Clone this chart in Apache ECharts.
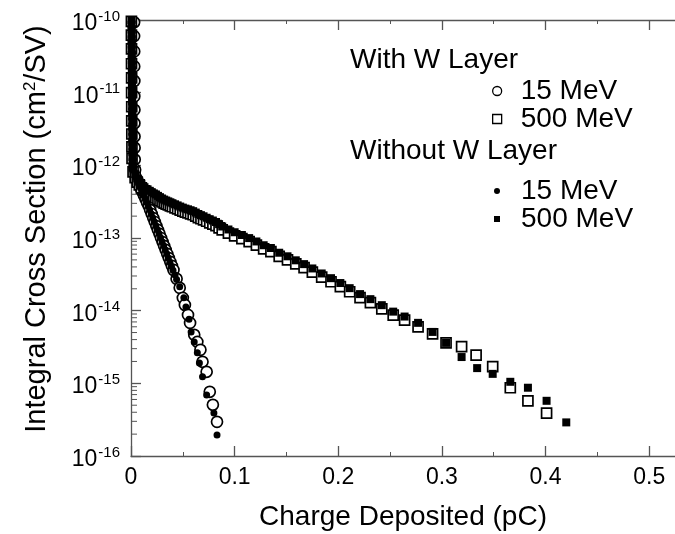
<!DOCTYPE html>
<html><head><meta charset="utf-8">
<script src="https://cdn.jsdelivr.net/npm/echarts@6/dist/echarts.min.js"></script>
<style>html,body{margin:0;padding:0;background:#fff}#c{width:675px;height:534px}</style>
</head><body><div id="c"></div>
<script>
// ---- data (charge in pC, integral cross section in cm^2/SV) ----
const withW15Charge = [0.0030,0.0030,0.0031,0.0031,0.0032,0.0032,0.0033,0.0033,0.0034,0.0035,0.0036,0.0040,
  0.005,0.0065,0.008,0.0095,0.011,0.0125,0.014,0.0155,0.017,0.0185,0.020,0.0215,0.023,0.0245,0.026,0.0275,0.029,0.0305,0.032,0.0335,0.035,0.0365,0.038,0.0395,0.041,
  0.044,0.047,0.050,0.052,0.055,0.057,0.061,0.064,0.067,0.069,0.073,0.076,0.079,0.083];
const withW15Sigma = [9.3e-11,6.0e-11,3.7e-11,2.3e-11,1.45e-11,8.9e-12,5.8e-12,3.8e-12,2.5e-12,1.75e-12,1.2e-12,8.7e-13,
  6.71e-13,6.0e-13,5.37e-13,4.81e-13,4.31e-13,3.86e-13,3.45e-13,3.09e-13,2.77e-13,2.43e-13,2.14e-13,1.88e-13,1.66e-13,1.46e-13,1.29e-13,1.14e-13,1.00e-13,8.8e-14,7.78e-14,6.85e-14,6.04e-14,5.3e-14,4.69e-14,4.13e-14,3.64e-14,
  2.74e-14,2.06e-14,1.50e-14,1.20e-14,8.75e-15,6.79e-15,4.65e-15,3.72e-15,2.89e-15,1.98e-15,1.44e-15,7.64e-16,5.06e-16,2.95e-16];

const withW500Charge = [0.0004,0.0004,0.0005,0.0005,0.0006,0.0006,0.0007,0.0007,0.0008,0.0009,0.0010,
  0.002,0.004,0.006,0.008,0.010,0.013,0.016,0.018,0.020,0.022,0.024,0.026,0.028,0.030,0.032,0.034,0.036,0.038,0.040,0.0425,0.045,0.0475,0.050,0.0525,0.055,0.0575,0.060,0.0625,0.065,0.0675,0.070,0.073,0.076,0.079,0.082,0.085,0.088,
  0.094,0.100,0.107,0.114,0.121,0.128,0.135,0.143,0.151,0.159,0.167,0.175,0.184,0.193,0.202,0.211,0.221,0.231,0.242,0.253,0.264,0.277,0.291,0.304,0.319,0.333,0.349,0.366,0.383,0.401];
const withW500Sigma = [9.6e-11,6.2e-11,4.0e-11,2.5e-11,1.6e-11,1.0e-11,6.4e-12,4.1e-12,2.7e-12,1.8e-12,1.25e-12,
  8.13e-13,6.76e-13,5.89e-13,5.37e-13,4.90e-13,4.47e-13,4.17e-13,3.98e-13,3.80e-13,3.67e-13,3.55e-13,3.39e-13,3.24e-13,3.13e-13,3.02e-13,2.93e-13,2.85e-13,2.77e-13,2.69e-13,2.60e-13,2.51e-13,2.42e-13,2.34e-13,2.27e-13,2.21e-13,2.15e-13,2.09e-13,2.0e-13,1.91e-13,1.84e-13,1.78e-13,1.70e-13,1.62e-13,1.55e-13,1.48e-13,1.38e-13,1.29e-13,
  1.17e-13,1.07e-13,9.8e-14,8.9e-14,8.0e-14,7.1e-14,6.5e-14,5.6e-14,5.0e-14,4.4e-14,3.9e-14,3.4e-14,2.9e-14,2.5e-14,2.14e-14,1.82e-14,1.51e-14,1.29e-14,1.06e-14,8.7e-15,7.4e-15,6.0e-15,4.8e-15,3.6e-15,3.2e-15,2.45e-15,1.70e-15,8.7e-16,5.75e-16,3.9e-16];

const noW15Charge = [0.0010,0.0010,0.0011,0.0011,0.0012,0.0012,0.0013,0.0013,0.0014,0.0014,0.0015,0.0015,0.0016,0.0016,0.0017,0.0017,0.0018,0.0018,0.0019,0.0019,0.0020,0.0020,0.0021,0.0021,0.0022,0.0022,0.0023,0.0023,0.0024,0.0025,
  0.0045,0.006,0.0075,0.009,0.0105,0.012,0.0135,0.015,0.0165,0.018,0.0195,0.021,0.0225,0.024,0.0255,0.027,0.0285,0.030,0.0315,0.033,0.0345,0.036,0.0375,0.039,0.0405,0.0425,
  0.044,0.047,0.051,0.053,0.056,0.058,0.061,0.064,0.066,0.069,0.073,0.080,0.083];
const noW15Sigma = [9.5e-11,8.1e-11,6.9e-11,5.9e-11,5.0e-11,4.3e-11,3.6e-11,3.1e-11,2.6e-11,2.2e-11,1.9e-11,1.6e-11,1.35e-11,1.15e-11,9.8e-12,8.3e-12,7.1e-12,6.0e-12,5.1e-12,4.4e-12,3.7e-12,3.15e-12,2.7e-12,2.3e-12,1.95e-12,1.65e-12,1.4e-12,1.2e-12,1.02e-12,8.7e-13,
  6.9e-13,6.2e-13,5.5e-13,4.9e-13,4.4e-13,3.9e-13,3.5e-13,3.1e-13,2.75e-13,2.45e-13,2.15e-13,1.9e-13,1.68e-13,1.48e-13,1.3e-13,1.15e-13,1.01e-13,8.9e-14,7.8e-14,6.9e-14,6.05e-14,5.3e-14,4.65e-14,4.1e-14,3.6e-14,3.1e-14,
  2.69e-14,2.14e-14,1.51e-14,1.12e-14,7.6e-15,5.1e-15,3.7e-15,2.63e-15,1.9e-15,1.23e-15,6.9e-16,3.9e-16,1.95e-16];

const noW500Charge = [0.0005,0.0005,0.0006,0.0006,0.0006,0.0007,0.0007,0.0007,0.0008,0.0008,0.0008,0.0009,0.0009,0.0009,0.0010,0.0010,0.0010,0.0011,0.0011,0.0011,0.0012,0.0012,0.0012,0.0013,0.0013,0.0013,0.0014,0.0014,0.0015,0.0015,
  0.002,0.004,0.006,0.008,0.010,0.013,0.016,0.018,0.020,0.022,0.024,0.026,0.028,0.030,0.032,0.034,0.036,0.038,0.040,0.0425,0.045,0.0475,0.050,0.0525,0.055,0.0575,0.060,0.0625,0.065,0.0675,0.070,0.073,0.076,0.079,0.082,0.085,0.088,
  0.094,0.100,0.107,0.114,0.121,0.128,0.135,0.143,0.151,0.159,0.167,0.175,0.184,0.193,0.202,0.211,0.221,0.231,0.242,0.253,0.264,
  0.277,0.291,0.304,0.319,0.334,0.349,0.366,0.383,0.401,0.420];
const noW500Sigma = [1.0e-10,8.6e-11,7.4e-11,6.3e-11,5.4e-11,4.6e-11,3.9e-11,3.3e-11,2.8e-11,2.4e-11,2.0e-11,1.7e-11,1.45e-11,1.23e-11,1.05e-11,8.9e-12,7.6e-12,6.5e-12,5.5e-12,4.7e-12,4.0e-12,3.4e-12,2.9e-12,2.45e-12,2.1e-12,1.8e-12,1.52e-12,1.3e-12,1.1e-12,9.4e-13,
  9.1e-13,7.57e-13,6.6e-13,6.0e-13,5.5e-13,5.0e-13,4.67e-13,4.46e-13,4.26e-13,4.11e-13,3.98e-13,3.8e-13,3.63e-13,3.5e-13,3.38e-13,3.28e-13,3.19e-13,3.1e-13,3.01e-13,2.91e-13,2.81e-13,2.71e-13,2.62e-13,2.54e-13,2.48e-13,2.41e-13,2.34e-13,2.24e-13,2.14e-13,2.06e-13,1.99e-13,1.9e-13,1.81e-13,1.74e-13,1.66e-13,1.55e-13,1.44e-13,
  1.31e-13,1.2e-13,1.1e-13,9.97e-14,8.96e-14,7.95e-14,7.28e-14,6.27e-14,5.6e-14,4.93e-14,4.37e-14,3.81e-14,3.25e-14,2.8e-14,2.4e-14,2.04e-14,1.69e-14,1.44e-14,1.19e-14,9.7e-15,8.3e-15,
  6.8e-15,5.1e-15,3.6e-15,2.3e-15,1.62e-15,1.35e-15,1.05e-15,8.7e-16,5.75e-16,2.9e-16];

const xTickLabels = ['0','0.1','0.2','0.3','0.4','0.5'];
const yDecades = [-16,-15,-14,-13,-12,-11,-10];

// ---- chart ----
const FONT = '"Liberation Sans", Arial, Helvetica, sans-serif';
const AX = '#555';
const pairs = (xs, ys) => xs.map((x, i) => [x, ys[i]]);
const minorTicks = [];
for (let e = yDecades[0]; e < yDecades[yDecades.length - 1]; e++)
  for (let k = 2; k <= 9; k++) minorTicks.push([0, k * Math.pow(10, e)]);

const openStyle = {color: '#fff', borderColor: '#000', borderWidth: 1.7, opacity: 1};
const fillStyle = {color: '#000', borderWidth: 0, opacity: 1};

const xBase = {
  type: 'value', min: 0, max: 0.55, interval: 0.1,
  axisLine: {show: true, onZero: false, lineStyle: {color: AX, width: 1.3}},
  axisTick: {show: true, inside: true, length: 10, lineStyle: {color: AX, width: 1.3}},
  minorTick: {show: true, splitNumber: 2, length: 4, lineStyle: {color: AX, width: 1}},
  splitLine: {show: false}, minorSplitLine: {show: false}
};

const chart = echarts.init(document.getElementById('c'));
chart.setOption({
  animation: false,
  backgroundColor: '#fff',
  grid: {left: 131, top: 20, right: -26, bottom: 78, containLabel: false, outerBoundsMode: 'none'},
  xAxis: [
    Object.assign({}, xBase, {
      position: 'bottom',
      axisLabel: {fontSize: 23, color: '#000', fontFamily: FONT, margin: 10,
        formatter: v => { const i = Math.round(v * 10); return Math.abs(v * 10 - i) < 1e-6 && i < xTickLabels.length ? xTickLabels[i] : ''; }},
      name: 'Charge Deposited (pC)', nameLocation: 'middle', nameGap: 47,
      nameTextStyle: {fontSize: 28, color: '#000', fontFamily: FONT, padding: [0, 26, 0, 0]}
    }),
    Object.assign({}, xBase, {position: 'top', axisLabel: {show: false}})
  ],
  yAxis: {
    type: 'log', logBase: 10, min: 1e-16, max: 1e-10, splitNumber: 6,
    axisLine: {show: true, onZero: false, lineStyle: {color: AX, width: 1.3}},
    axisTick: {show: true, inside: true, length: 10, lineStyle: {color: AX, width: 1.3}},
    splitLine: {show: false},
    axisLabel: {
      margin: 11, color: '#000', fontFamily: FONT,
      formatter: v => '{b|10}{s|' + Math.round(Math.log10(v)) + '}',
      rich: {
        b: {fontSize: 23, fontFamily: FONT, color: '#000', lineHeight: 30, verticalAlign: 'bottom'},
        s: {fontSize: 15, fontFamily: FONT, color: '#000', lineHeight: 15, verticalAlign: 'top', padding: [4, 0, 0, 1]}
      }
    },
    name: 'Integral Cross Section (cm{sup|2}/SV)', nameLocation: 'middle', nameGap: 80, nameRotate: 90,
    nameTextStyle: {fontSize: 29, color: '#000', fontFamily: FONT, padding: [0, 0, 0, 18],
      rich: {sup: {fontSize: 17, fontFamily: FONT, color: '#000', verticalAlign: 'top', lineHeight: 17}}}
  },
  legend: [
    {data: ['With W Layer 15 MeV', 'With W Layer 500 MeV'], orient: 'vertical', left: 492, top: 77,
     padding: 0, itemGap: 0, itemWidth: 9, itemHeight: 9, selectedMode: false,
     formatter: n => n.replace('With W Layer ', ''),
     itemStyle: {borderWidth: 1.3},
     textStyle: {fontSize: 28, lineHeight: 28, color: '#000', fontFamily: FONT, padding: [0, 0, 0, 14]}},
    {data: ['Without W Layer 15 MeV', 'Without W Layer 500 MeV'], orient: 'vertical', left: 494, top: 177,
     padding: 0, itemGap: 0, itemWidth: 6, itemHeight: 6, selectedMode: false,
     formatter: n => n.replace('Without W Layer ', ''),
     textStyle: {fontSize: 28, lineHeight: 28, color: '#000', fontFamily: FONT, padding: [0, 0, 0, 16]}}
  ],
  graphic: [
    {type: 'text', left: 350, top: 46, style: {text: 'With W Layer', fontSize: 28, fontFamily: FONT, fill: '#000'}},
    {type: 'text', left: 350, top: 137, style: {text: 'Without W Layer', fontSize: 28, fontFamily: FONT, fill: '#000'}}
  ],
  series: [
    {type: 'custom', name: 'yMinorTicks', silent: true, clip: false, data: minorTicks,
     renderItem: (params, api) => {
       const p = api.coord([api.value(0), api.value(1)]);
       return {type: 'line', shape: {x1: p[0], y1: p[1], x2: p[0] + 6, y2: p[1]}, style: {stroke: AX, lineWidth: 1}};
     }},
    {type: 'scatter', name: 'With W Layer 15 MeV', symbol: 'circle', symbolSize: 11, itemStyle: openStyle, data: pairs(withW15Charge, withW15Sigma)},
    {type: 'scatter', name: 'With W Layer 500 MeV', symbol: 'rect', symbolSize: 10, itemStyle: openStyle, data: pairs(withW500Charge, withW500Sigma)},
    {type: 'scatter', name: 'Without W Layer 15 MeV', symbol: 'circle', symbolSize: 7, itemStyle: fillStyle, data: pairs(noW15Charge, noW15Sigma)},
    {type: 'scatter', name: 'Without W Layer 500 MeV', symbol: 'rect', symbolSize: 8, itemStyle: fillStyle, data: pairs(noW500Charge, noW500Sigma)}
  ]
});
</script>
</body></html>
